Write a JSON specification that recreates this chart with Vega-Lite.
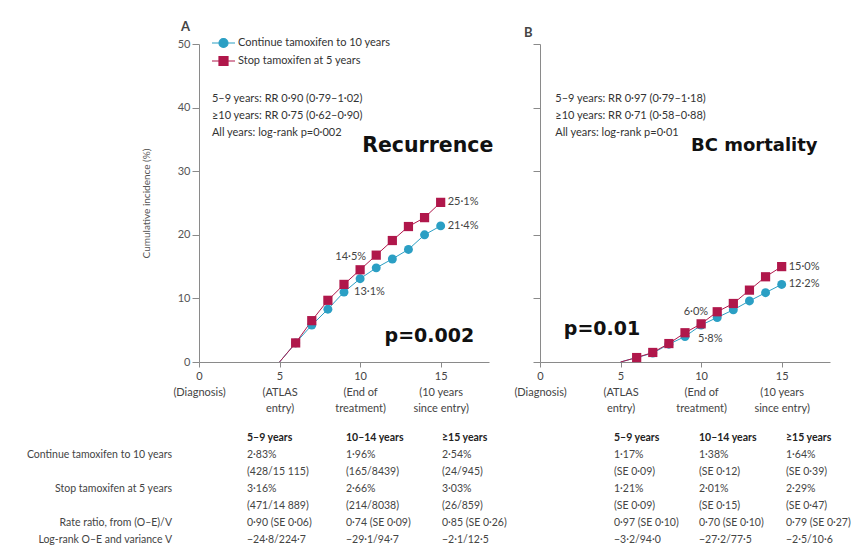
{
  "$schema": "https://vega.github.io/schema/vega-lite/v6.json",
  "background": "white",
  "padding": {"left": 26, "top": 21, "right": 0, "bottom": 0},
  "bounds": "flush",
  "columns": 2,
  "spacing": {"row": 70, "column": 51},
  "config": {
    "view": {"stroke": null},
    "font": "Lato",
    "text": {"font": "Lato"},
    "axis": {"grid": false, "domainColor": "#8a8a8a", "tickColor": "#8a8a8a", "labelFont": "Lato", "labelFontSize": 11, "labelColor": "#444"}
  },
  "datasets": {
    "curves": [
      {"panel": "A", "group": "Continue tamoxifen to 10 years", "year": 5, "pct": 0},
      {"panel": "A", "group": "Continue tamoxifen to 10 years", "year": 6, "pct": 3.0},
      {"panel": "A", "group": "Continue tamoxifen to 10 years", "year": 7, "pct": 5.8},
      {"panel": "A", "group": "Continue tamoxifen to 10 years", "year": 8, "pct": 8.3},
      {"panel": "A", "group": "Continue tamoxifen to 10 years", "year": 9, "pct": 11.0},
      {"panel": "A", "group": "Continue tamoxifen to 10 years", "year": 10, "pct": 13.1, "label": "13·1%"},
      {"panel": "A", "group": "Continue tamoxifen to 10 years", "year": 11, "pct": 14.8},
      {"panel": "A", "group": "Continue tamoxifen to 10 years", "year": 12, "pct": 16.2},
      {"panel": "A", "group": "Continue tamoxifen to 10 years", "year": 13, "pct": 17.7},
      {"panel": "A", "group": "Continue tamoxifen to 10 years", "year": 14, "pct": 20.0},
      {"panel": "A", "group": "Continue tamoxifen to 10 years", "year": 15, "pct": 21.4, "label": "21·4%"},
      {"panel": "B", "group": "Continue tamoxifen to 10 years", "year": 5, "pct": 0},
      {"panel": "B", "group": "Continue tamoxifen to 10 years", "year": 6, "pct": 0.7},
      {"panel": "B", "group": "Continue tamoxifen to 10 years", "year": 7, "pct": 1.4},
      {"panel": "B", "group": "Continue tamoxifen to 10 years", "year": 8, "pct": 2.8},
      {"panel": "B", "group": "Continue tamoxifen to 10 years", "year": 9, "pct": 4.0},
      {"panel": "B", "group": "Continue tamoxifen to 10 years", "year": 10, "pct": 5.8, "label": "5·8%"},
      {"panel": "B", "group": "Continue tamoxifen to 10 years", "year": 11, "pct": 7.0},
      {"panel": "B", "group": "Continue tamoxifen to 10 years", "year": 12, "pct": 8.2},
      {"panel": "B", "group": "Continue tamoxifen to 10 years", "year": 13, "pct": 9.6},
      {"panel": "B", "group": "Continue tamoxifen to 10 years", "year": 14, "pct": 10.9},
      {"panel": "B", "group": "Continue tamoxifen to 10 years", "year": 15, "pct": 12.2, "label": "12·2%"},
      {"panel": "A", "group": "Stop tamoxifen at 5 years", "year": 5, "pct": 0},
      {"panel": "A", "group": "Stop tamoxifen at 5 years", "year": 6, "pct": 3.0},
      {"panel": "A", "group": "Stop tamoxifen at 5 years", "year": 7, "pct": 6.5},
      {"panel": "A", "group": "Stop tamoxifen at 5 years", "year": 8, "pct": 9.7},
      {"panel": "A", "group": "Stop tamoxifen at 5 years", "year": 9, "pct": 12.2},
      {"panel": "A", "group": "Stop tamoxifen at 5 years", "year": 10, "pct": 14.5, "label": "14·5%"},
      {"panel": "A", "group": "Stop tamoxifen at 5 years", "year": 11, "pct": 16.8},
      {"panel": "A", "group": "Stop tamoxifen at 5 years", "year": 12, "pct": 19.1},
      {"panel": "A", "group": "Stop tamoxifen at 5 years", "year": 13, "pct": 21.3},
      {"panel": "A", "group": "Stop tamoxifen at 5 years", "year": 14, "pct": 22.7},
      {"panel": "A", "group": "Stop tamoxifen at 5 years", "year": 15, "pct": 25.1, "label": "25·1%"},
      {"panel": "B", "group": "Stop tamoxifen at 5 years", "year": 5, "pct": 0},
      {"panel": "B", "group": "Stop tamoxifen at 5 years", "year": 6, "pct": 0.7},
      {"panel": "B", "group": "Stop tamoxifen at 5 years", "year": 7, "pct": 1.5},
      {"panel": "B", "group": "Stop tamoxifen at 5 years", "year": 8, "pct": 2.9},
      {"panel": "B", "group": "Stop tamoxifen at 5 years", "year": 9, "pct": 4.6},
      {"panel": "B", "group": "Stop tamoxifen at 5 years", "year": 10, "pct": 6.0, "label": "6·0%"},
      {"panel": "B", "group": "Stop tamoxifen at 5 years", "year": 11, "pct": 7.9},
      {"panel": "B", "group": "Stop tamoxifen at 5 years", "year": 12, "pct": 9.2},
      {"panel": "B", "group": "Stop tamoxifen at 5 years", "year": 13, "pct": 11.3},
      {"panel": "B", "group": "Stop tamoxifen at 5 years", "year": 14, "pct": 13.4},
      {"panel": "B", "group": "Stop tamoxifen at 5 years", "year": 15, "pct": 15.0, "label": "15·0%"}
    ],
    "notes": [
      {"panel": "A", "lines": ["5–9 years: RR 0·90 (0·79–1·02)", "≥10 years: RR 0·75 (0·62–0·90)", "All years: log-rank p=0·002"], "outcome": "Recurrence", "p": "p=0.002"},
      {"panel": "B", "lines": ["5–9 years: RR 0·97 (0·79–1·18)", "≥10 years: RR 0·71 (0·58–0·88)", "All years: log-rank p=0·01"], "outcome": "BC mortality", "p": "p=0.01"}
    ],
    "table": [
      {"panel": "A", "col": 0, "row": 1, "text": "Continue tamoxifen to 10 years"},
      {"panel": "A", "col": 0, "row": 3, "text": "Stop tamoxifen at 5 years"},
      {"panel": "A", "col": 0, "row": 5, "text": "Rate ratio, from (O–E)/V"},
      {"panel": "A", "col": 0, "row": 6, "text": "Log-rank O–E and variance V"},
      {"panel": "A", "col": 1, "row": 0, "text": "5–9 years"},
      {"panel": "A", "col": 2, "row": 0, "text": "10–14 years"},
      {"panel": "A", "col": 3, "row": 0, "text": "≥15 years"},
      {"panel": "A", "col": 1, "row": 1, "text": "2·83%"},
      {"panel": "A", "col": 2, "row": 1, "text": "1·96%"},
      {"panel": "A", "col": 3, "row": 1, "text": "2·54%"},
      {"panel": "A", "col": 1, "row": 2, "text": "(428/15 115)"},
      {"panel": "A", "col": 2, "row": 2, "text": "(165/8439)"},
      {"panel": "A", "col": 3, "row": 2, "text": "(24/945)"},
      {"panel": "A", "col": 1, "row": 3, "text": "3·16%"},
      {"panel": "A", "col": 2, "row": 3, "text": "2·66%"},
      {"panel": "A", "col": 3, "row": 3, "text": "3·03%"},
      {"panel": "A", "col": 1, "row": 4, "text": "(471/14 889)"},
      {"panel": "A", "col": 2, "row": 4, "text": "(214/8038)"},
      {"panel": "A", "col": 3, "row": 4, "text": "(26/859)"},
      {"panel": "A", "col": 1, "row": 5, "text": "0·90 (SE 0·06)"},
      {"panel": "A", "col": 2, "row": 5, "text": "0·74 (SE 0·09)"},
      {"panel": "A", "col": 3, "row": 5, "text": "0·85 (SE 0·26)"},
      {"panel": "A", "col": 1, "row": 6, "text": "−24·8/224·7"},
      {"panel": "A", "col": 2, "row": 6, "text": "−29·1/94·7"},
      {"panel": "A", "col": 3, "row": 6, "text": "−2·1/12·5"},
      {"panel": "B", "col": 1, "row": 0, "text": "5–9 years"},
      {"panel": "B", "col": 2, "row": 0, "text": "10–14 years"},
      {"panel": "B", "col": 3, "row": 0, "text": "≥15 years"},
      {"panel": "B", "col": 1, "row": 1, "text": "1·17%"},
      {"panel": "B", "col": 2, "row": 1, "text": "1·38%"},
      {"panel": "B", "col": 3, "row": 1, "text": "1·64%"},
      {"panel": "B", "col": 1, "row": 2, "text": "(SE 0·09)"},
      {"panel": "B", "col": 2, "row": 2, "text": "(SE 0·12)"},
      {"panel": "B", "col": 3, "row": 2, "text": "(SE 0·39)"},
      {"panel": "B", "col": 1, "row": 3, "text": "1·21%"},
      {"panel": "B", "col": 2, "row": 3, "text": "2·01%"},
      {"panel": "B", "col": 3, "row": 3, "text": "2·29%"},
      {"panel": "B", "col": 1, "row": 4, "text": "(SE 0·09)"},
      {"panel": "B", "col": 2, "row": 4, "text": "(SE 0·15)"},
      {"panel": "B", "col": 3, "row": 4, "text": "(SE 0·47)"},
      {"panel": "B", "col": 1, "row": 5, "text": "0·97 (SE 0·10)"},
      {"panel": "B", "col": 2, "row": 5, "text": "0·70 (SE 0·10)"},
      {"panel": "B", "col": 3, "row": 5, "text": "0·79 (SE 0·27)"},
      {"panel": "B", "col": 1, "row": 6, "text": "−3·2/94·0"},
      {"panel": "B", "col": 2, "row": 6, "text": "−27·2/77·5"},
      {"panel": "B", "col": 3, "row": 6, "text": "−2·5/10·6"}
    ]
  },
  "concat": [
    {
      "width": 290, "height": 318,
      "title": {"text": "A", "anchor": "start", "frame": "group", "dx": -18, "offset": 4, "fontSize": 13, "fontWeight": "bold", "color": "#444", "font": "Lato"},
      "layer": [
        {
          "data": {"name": "curves"},
          "transform": [{"filter": "datum.panel == 'A'"}],
          "mark": {"type": "line", "strokeWidth": 1},
          "encoding": {
            "x": {"field": "year", "type": "quantitative", "scale": {"domain": [0, 17.5]},
              "axis": {"values": [0, 5, 10, 15], "title": null, "labelOverlap": false, "labelFlush": false, "labelLineHeight": 16, "labelPadding": 3, "labelBaseline": "top", "tickSize": 5,
                "labelExpr": "datum.value == 0 ? ['0', '(Diagnosis)'] : datum.value == 5 ? ['5', '(ATLAS', 'entry)'] : datum.value == 10 ? ['10', '(End of', 'treatment)'] : ['15', '(10 years', 'since entry)']"}},
            "y": {"field": "pct", "type": "quantitative", "scale": {"domain": [0, 50]},
              "axis": {"values": [0, 10, 20, 30, 40, 50], "title": "Cumulative incidence (%)", "tickSize": 7, "labelPadding": 2, "labelColor": "#555", "titleFont": "Lato", "titleFontSize": 10, "titleFontWeight": "normal", "titleColor": "#555", "titlePadding": 26}},
            "color": {"field": "group", "type": "nominal",
              "scale": {"domain": ["Continue tamoxifen to 10 years", "Stop tamoxifen at 5 years"], "range": ["#2b9fc4", "#b0174b"]},
              "legend": {"title": null, "orient": "none", "legendX": 18.5, "legendY": -7, "padding": 0, "symbolSize": 100, "symbolStrokeWidth": 1.2, "labelFont": "Lato", "labelFontSize": 11, "labelColor": "#333", "labelOffset": 8.5, "rowPadding": 4,
                "encode": {"symbols": {"update": {
                  "shape": {"signal": "datum.value == 'Continue tamoxifen to 10 years' ? 'M-2.3,0H2.3M-0.9,0A0.9,0.9,0,1,0,0.9,0A0.9,0.9,0,1,0,-0.9,0Z' : 'M-2.3,0H2.3M-0.9,-0.9H0.9V0.9H-0.9Z'"},
                  "fill": {"signal": "datum.value == 'Continue tamoxifen to 10 years' ? '#2b9fc4' : '#b0174b'"},
                  "stroke": {"signal": "datum.value == 'Continue tamoxifen to 10 years' ? '#2b9fc4' : '#b0174b'"},
                  "strokeWidth": {"value": 1.2}, "opacity": {"value": 1}}}}}}
          }
        },
        {
          "data": {"name": "curves"},
          "transform": [{"filter": "datum.panel == 'A' && datum.year > 5 && datum.group == 'Continue tamoxifen to 10 years'"}],
          "mark": {"type": "point", "shape": "circle", "filled": true, "size": 80, "opacity": 1},
          "encoding": {
            "x": {"field": "year", "type": "quantitative"},
            "y": {"field": "pct", "type": "quantitative"},
            "color": {"field": "group", "type": "nominal",
              "legend": {"title": null, "orient": "none", "legendX": 18.5, "legendY": -7, "padding": 0, "symbolSize": 100, "symbolStrokeWidth": 1.2, "labelFont": "Lato", "labelFontSize": 11, "labelColor": "#333", "labelOffset": 8.5, "rowPadding": 4,
                "encode": {"symbols": {"update": {
                  "shape": {"signal": "datum.value == 'Continue tamoxifen to 10 years' ? 'M-2.3,0H2.3M-0.9,0A0.9,0.9,0,1,0,0.9,0A0.9,0.9,0,1,0,-0.9,0Z' : 'M-2.3,0H2.3M-0.9,-0.9H0.9V0.9H-0.9Z'"},
                  "fill": {"signal": "datum.value == 'Continue tamoxifen to 10 years' ? '#2b9fc4' : '#b0174b'"},
                  "stroke": {"signal": "datum.value == 'Continue tamoxifen to 10 years' ? '#2b9fc4' : '#b0174b'"},
                  "strokeWidth": {"value": 1.2}, "opacity": {"value": 1}}}}}}
          }
        },
        {
          "data": {"name": "curves"},
          "transform": [{"filter": "datum.panel == 'A' && datum.year > 5 && datum.group == 'Stop tamoxifen at 5 years'"}],
          "mark": {"type": "point", "shape": "square", "filled": true, "size": 85, "opacity": 1},
          "encoding": {
            "x": {"field": "year", "type": "quantitative"},
            "y": {"field": "pct", "type": "quantitative"},
            "color": {"field": "group", "type": "nominal",
              "legend": {"title": null, "orient": "none", "legendX": 18.5, "legendY": -7, "padding": 0, "symbolSize": 100, "symbolStrokeWidth": 1.2, "labelFont": "Lato", "labelFontSize": 11, "labelColor": "#333", "labelOffset": 8.5, "rowPadding": 4,
                "encode": {"symbols": {"update": {
                  "shape": {"signal": "datum.value == 'Continue tamoxifen to 10 years' ? 'M-2.3,0H2.3M-0.9,0A0.9,0.9,0,1,0,0.9,0A0.9,0.9,0,1,0,-0.9,0Z' : 'M-2.3,0H2.3M-0.9,-0.9H0.9V0.9H-0.9Z'"},
                  "fill": {"signal": "datum.value == 'Continue tamoxifen to 10 years' ? '#2b9fc4' : '#b0174b'"},
                  "stroke": {"signal": "datum.value == 'Continue tamoxifen to 10 years' ? '#2b9fc4' : '#b0174b'"},
                  "strokeWidth": {"value": 1.2}, "opacity": {"value": 1}}}}}}
          }
        },
        {
          "data": {"name": "curves"},
          "transform": [{"filter": "datum.panel == 'A' && datum.year == 15"}],
          "mark": {"type": "text", "align": "left", "baseline": "middle", "dx": 7, "fontSize": 11, "color": "#444"},
          "encoding": {"x": {"field": "year", "type": "quantitative"}, "y": {"field": "pct", "type": "quantitative"}, "text": {"field": "label"}}
        },
        {
          "data": {"name": "curves"},
          "transform": [{"filter": "datum.panel == 'A' && datum.year == 10 && datum.group == 'Stop tamoxifen at 5 years'"}],
          "mark": {"type": "text", "align": "right", "baseline": "middle", "dx": 6, "dy": -13, "fontSize": 11, "color": "#444"},
          "encoding": {"x": {"field": "year", "type": "quantitative"}, "y": {"field": "pct", "type": "quantitative"}, "text": {"field": "label"}}
        },
        {
          "data": {"name": "curves"},
          "transform": [{"filter": "datum.panel == 'A' && datum.year == 10 && datum.group == 'Continue tamoxifen to 10 years'"}],
          "mark": {"type": "text", "align": "left", "baseline": "middle", "dx": -6, "dy": 13, "fontSize": 11, "color": "#444"},
          "encoding": {"x": {"field": "year", "type": "quantitative"}, "y": {"field": "pct", "type": "quantitative"}, "text": {"field": "label"}}
        },
        {
          "data": {"name": "notes"},
          "transform": [{"filter": "datum.panel == 'A'"}],
          "mark": {"type": "text", "align": "left", "baseline": "top", "lineHeight": 17, "fontSize": 11, "color": "#333"},
          "encoding": {"x": {"datum": 0.8, "type": "quantitative"}, "y": {"datum": 42.3, "type": "quantitative"}, "text": {"field": "lines"}}
        },
        {
          "data": {"name": "notes"},
          "transform": [{"filter": "datum.panel == 'A'"}],
          "mark": {"type": "text", "align": "center", "baseline": "middle", "font": "DejaVu Sans", "fontWeight": "bold", "fontSize": 20.5, "color": "#111"},
          "encoding": {"x": {"datum": 14.2, "type": "quantitative"}, "y": {"datum": 34.0, "type": "quantitative"}, "text": {"field": "outcome"}}
        },
        {
          "data": {"name": "notes"},
          "transform": [{"filter": "datum.panel == 'A'"}],
          "mark": {"type": "text", "align": "center", "baseline": "middle", "font": "DejaVu Sans", "fontWeight": "bold", "fontSize": 19, "color": "#111"},
          "encoding": {"x": {"datum": 14.3, "type": "quantitative"}, "y": {"datum": 4.1, "type": "quantitative"}, "text": {"field": "p"}}
        }
      ]
    },
    {
      "width": 290, "height": 318,
      "title": {"text": "B", "anchor": "start", "frame": "group", "dx": -16, "offset": 4, "fontSize": 13, "fontWeight": "bold", "color": "#444", "font": "Lato"},
      "layer": [
        {
          "data": {"name": "curves"},
          "transform": [{"filter": "datum.panel == 'B'"}],
          "mark": {"type": "line", "strokeWidth": 1},
          "encoding": {
            "x": {"field": "year", "type": "quantitative", "scale": {"domain": [0, 17.5]},
              "axis": {"values": [0, 5, 10, 15], "title": null, "labelOverlap": false, "labelFlush": false, "labelLineHeight": 16, "labelPadding": 3, "labelBaseline": "top", "tickSize": 5,
                "labelExpr": "datum.value == 0 ? ['0', '(Diagnosis)'] : datum.value == 5 ? ['5', '(ATLAS', 'entry)'] : datum.value == 10 ? ['10', '(End of', 'treatment)'] : ['15', '(10 years', 'since entry)']"}},
            "y": {"field": "pct", "type": "quantitative", "scale": {"domain": [0, 50]},
              "axis": {"values": [0, 10, 20, 30, 40, 50], "title": null, "labels": false, "tickSize": 7}},
            "color": {"field": "group", "type": "nominal",
              "scale": {"domain": ["Continue tamoxifen to 10 years", "Stop tamoxifen at 5 years"], "range": ["#2b9fc4", "#b0174b"]}, "legend": null}
          }
        },
        {
          "data": {"name": "curves"},
          "transform": [{"filter": "datum.panel == 'B' && datum.year > 5 && datum.group == 'Continue tamoxifen to 10 years'"}],
          "mark": {"type": "point", "shape": "circle", "filled": true, "size": 80, "opacity": 1},
          "encoding": {
            "x": {"field": "year", "type": "quantitative"},
            "y": {"field": "pct", "type": "quantitative"},
            "color": {"field": "group", "type": "nominal", "legend": null}
          }
        },
        {
          "data": {"name": "curves"},
          "transform": [{"filter": "datum.panel == 'B' && datum.year > 5 && datum.group == 'Stop tamoxifen at 5 years'"}],
          "mark": {"type": "point", "shape": "square", "filled": true, "size": 85, "opacity": 1},
          "encoding": {
            "x": {"field": "year", "type": "quantitative"},
            "y": {"field": "pct", "type": "quantitative"},
            "color": {"field": "group", "type": "nominal", "legend": null}
          }
        },
        {
          "data": {"name": "curves"},
          "transform": [{"filter": "datum.panel == 'B' && datum.year == 15"}],
          "mark": {"type": "text", "align": "left", "baseline": "middle", "dx": 7, "fontSize": 11, "color": "#444"},
          "encoding": {"x": {"field": "year", "type": "quantitative"}, "y": {"field": "pct", "type": "quantitative"}, "text": {"field": "label"}}
        },
        {
          "data": {"name": "curves"},
          "transform": [{"filter": "datum.panel == 'B' && datum.year == 10 && datum.group == 'Stop tamoxifen at 5 years'"}],
          "mark": {"type": "text", "align": "right", "baseline": "middle", "dx": 7, "dy": -12, "fontSize": 11, "color": "#444"},
          "encoding": {"x": {"field": "year", "type": "quantitative"}, "y": {"field": "pct", "type": "quantitative"}, "text": {"field": "label"}}
        },
        {
          "data": {"name": "curves"},
          "transform": [{"filter": "datum.panel == 'B' && datum.year == 10 && datum.group == 'Continue tamoxifen to 10 years'"}],
          "mark": {"type": "text", "align": "left", "baseline": "middle", "dx": -3, "dy": 14, "fontSize": 11, "color": "#444"},
          "encoding": {"x": {"field": "year", "type": "quantitative"}, "y": {"field": "pct", "type": "quantitative"}, "text": {"field": "label"}}
        },
        {
          "data": {"name": "notes"},
          "transform": [{"filter": "datum.panel == 'B'"}],
          "mark": {"type": "text", "align": "left", "baseline": "top", "lineHeight": 17, "fontSize": 11, "color": "#333"},
          "encoding": {"x": {"datum": 0.95, "type": "quantitative"}, "y": {"datum": 42.3, "type": "quantitative"}, "text": {"field": "lines"}}
        },
        {
          "data": {"name": "notes"},
          "transform": [{"filter": "datum.panel == 'B'"}],
          "mark": {"type": "text", "align": "center", "baseline": "middle", "font": "DejaVu Sans", "fontWeight": "bold", "fontSize": 18, "color": "#111"},
          "encoding": {"x": {"datum": 13.3, "type": "quantitative"}, "y": {"datum": 34.0, "type": "quantitative"}, "text": {"field": "outcome"}}
        },
        {
          "data": {"name": "notes"},
          "transform": [{"filter": "datum.panel == 'B'"}],
          "mark": {"type": "text", "align": "center", "baseline": "middle", "font": "DejaVu Sans", "fontWeight": "bold", "fontSize": 19, "color": "#111"},
          "encoding": {"x": {"datum": 3.85, "type": "quantitative"}, "y": {"datum": 5.2, "type": "quantitative"}, "text": {"field": "p"}}
        }
      ]
    },
    {
      "width": 290, "height": 110,
      "data": {"name": "table"},
      "transform": [{"filter": "datum.panel == 'A'"}],
      "encoding": {
        "x": {"field": "col", "type": "quantitative", "scale": {"domain": [0, 1, 2, 3], "range": [-27, 48, 147, 243]}, "axis": null},
        "y": {"field": "row", "type": "quantitative", "scale": {"domain": [0, 6], "range": [6, 108]}, "axis": null},
        "text": {"field": "text"}
      },
      "layer": [
        {"transform": [{"filter": "datum.col == 0"}], "mark": {"type": "text", "align": "right", "baseline": "middle", "fontSize": 10.5, "color": "#444"}},
        {"transform": [{"filter": "datum.col > 0 && datum.row == 0"}], "mark": {"type": "text", "align": "left", "baseline": "middle", "fontSize": 10.5, "fontWeight": "bold", "color": "#222"}},
        {"transform": [{"filter": "datum.col > 0 && datum.row > 0"}], "mark": {"type": "text", "align": "left", "baseline": "middle", "fontSize": 10.5, "color": "#444"}}
      ]
    },
    {
      "width": 290, "height": 110,
      "data": {"name": "table"},
      "transform": [{"filter": "datum.panel == 'B'"}],
      "encoding": {
        "x": {"field": "col", "type": "quantitative", "scale": {"domain": [1, 2, 3], "range": [74, 159, 246]}, "axis": null},
        "y": {"field": "row", "type": "quantitative", "scale": {"domain": [0, 6], "range": [6, 108]}, "axis": null},
        "text": {"field": "text"}
      },
      "layer": [
        {"transform": [{"filter": "datum.row == 0"}], "mark": {"type": "text", "align": "left", "baseline": "middle", "fontSize": 10.5, "fontWeight": "bold", "color": "#222"}},
        {"transform": [{"filter": "datum.row > 0"}], "mark": {"type": "text", "align": "left", "baseline": "middle", "fontSize": 10.5, "color": "#444"}}
      ]
    }
  ]
}
